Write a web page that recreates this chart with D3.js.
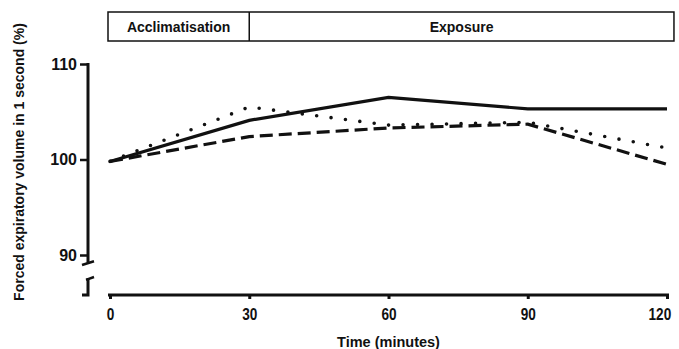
<!DOCTYPE html>
<html>
<head>
<meta charset="utf-8">
<script src="https://cdn.jsdelivr.net/npm/d3@7"></script>
<style>
  body { margin: 0; background: #fff; }
  text { font-family: "Liberation Sans", Arial, sans-serif; font-weight: bold; fill: #111; }
</style>
</head>
<body>
<svg id="chart" width="679" height="349"></svg>
<script>
// time points (minutes)
const times = [0, 30, 60, 90, 120];
// FEV1 as % of baseline
const solidSeries = [99.8, 104.1, 106.5, 105.3, 105.3];
const dottedSeries = [99.8, 105.5, 103.6, 103.9, 101.2];
const dashedSeries = [99.8, 102.4, 103.3, 103.7, 99.5];
const xTicks = [0, 30, 60, 90, 120];
const yTicks = [90, 100, 110];
const phases = [
  { label: "Acclimatisation", start: 0, end: 30 },
  { label: "Exposure", start: 30, end: 121.5 }
];

const svg = d3.select("#chart");

const x = d3.scaleLinear().domain([0, 120]).range([110, 667]);
const y = d3.scaleLinear().domain([90, 110]).range([255, 64]);
const axisY = 295;   // x axis baseline
const axisX = 88;    // y axis position

// phase boxes at the top
const box = svg.append("g");
const boxLeft = x(phases[0].start) - 2, boxRight = x(phases[phases.length - 1].end);
box.append("rect")
  .attr("x", boxLeft).attr("y", 12)
  .attr("width", boxRight - boxLeft).attr("height", 29)
  .attr("fill", "none").attr("stroke", "#111").attr("stroke-width", 1.5);
phases.forEach((p, i) => {
  const x0 = i === 0 ? boxLeft : x(p.start), x1 = x(p.end);
  if (i > 0) {
    box.append("line")
      .attr("x1", x0).attr("x2", x0).attr("y1", 12).attr("y2", 41)
      .attr("stroke", "#111").attr("stroke-width", 1.5);
  }
  box.append("text")
    .attr("x", (x0 + x1) / 2).attr("y", 32)
    .attr("text-anchor", "middle")
    .attr("font-size", "14px")
    .text(p.label);
});

// x axis
const xAxis = svg.append("g")
  .attr("transform", `translate(0,${axisY})`)
  .call(d3.axisBottom(x).tickValues(xTicks).tickSize(4).tickSizeOuter(0).tickPadding(10));
xAxis.select(".domain").attr("stroke", "#111").attr("stroke-width", 3)
  .attr("d", `M${x(0) - 2},0H${x(120) + 2}`);
xAxis.selectAll(".tick line").attr("stroke", "#111").attr("stroke-width", 3);
xAxis.selectAll(".tick text").attr("font-size", "16px").attr("fill", "#111")
  .attr("font-family", "'Liberation Sans', Arial, sans-serif").attr("font-weight", "bold")
  .attr("transform", "scale(0.85,1)")
  .attr("dx", d => d === 120 ? -9 : 0);

// y axis (broken below 90)
const yAxis = svg.append("g")
  .attr("transform", `translate(${axisX},0)`)
  .call(d3.axisLeft(y).tickValues(yTicks).tickSize(8).tickSizeOuter(0).tickPadding(3));
yAxis.select(".domain").attr("stroke", "#111").attr("stroke-width", 3)
  .attr("fill", "none")
  .attr("d", `M0,${y(110) - 1}V${y(89.2)}`);
yAxis.selectAll(".tick line").attr("stroke", "#111").attr("stroke-width", 2.5);
yAxis.selectAll(".tick text").attr("font-size", "16px").attr("fill", "#111")
  .attr("font-family", "'Liberation Sans', Arial, sans-serif").attr("font-weight", "bold");

// break marks and stub
const brk = svg.append("g").attr("stroke", "#111").attr("stroke-width", 2.5).attr("fill", "none");
brk.append("line").attr("x1", axisX - 6).attr("y1", y(88.95)).attr("x2", axisX + 6).attr("y2", y(89.35));
brk.append("line").attr("x1", axisX - 2).attr("y1", y(87.4)).attr("x2", axisX + 6).attr("y2", y(87.7));
brk.append("path").attr("stroke-width", 3)
  .attr("d", `M${axisX},${y(87.6)}V${axisY}H${axisX - 6}`);

// axis titles
svg.append("text")
  .attr("transform", `translate(24,${(302 + 22) / 2}) rotate(-90)`)
  .attr("text-anchor", "middle")
  .attr("font-size", "14px")
  .text("Forced expiratory volume in 1 second (%)");

svg.append("text")
  .attr("x", x(60)).attr("y", 347)
  .attr("text-anchor", "middle")
  .attr("font-size", "14.5px")
  .text("Time (minutes)");

// series
const line = d3.line().x((d, i) => x(times[i])).y(d => y(d));

svg.append("path").datum(solidSeries)
  .attr("d", line).attr("fill", "none")
  .attr("stroke", "#111").attr("stroke-width", 3.2);

svg.append("path").datum(dashedSeries)
  .attr("d", line).attr("fill", "none")
  .attr("stroke", "#111").attr("stroke-width", 3.2)
  .attr("stroke-dasharray", "13,6");

svg.append("path").datum(dottedSeries)
  .attr("d", line).attr("fill", "none")
  .attr("stroke", "#111").attr("stroke-width", 3.6)
  .attr("stroke-linecap", "round")
  .attr("stroke-dasharray", "0,14.5");
</script>
</body>
</html>
